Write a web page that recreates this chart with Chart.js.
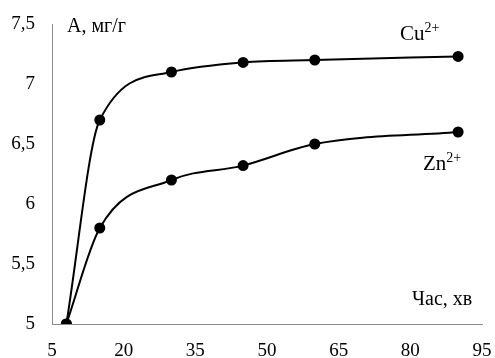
<!DOCTYPE html>
<html>
<head>
<meta charset="utf-8">
<script src="https://cdn.jsdelivr.net/npm/chart.js@4"></script>
<style>
  html, body { margin: 0; padding: 0; background: #fff; }
  #box { width: 495px; height: 358px; }
</style>
</head>
<body>
<div id="box"><canvas id="grafico"></canvas></div>
<script>
// час, хв
var chas = [8, 15, 30, 45, 60, 90];
// адсорбція, мг/г
var cu = [5, 6.7, 7.1, 7.18, 7.2, 7.23];
var zn = [5, 5.8, 6.2, 6.32, 6.5, 6.6];
var xTicks = [5, 20, 35, 50, 65, 80, 95];
var yTicks = [5, 5.5, 6, 6.5, 7, 7.5];

function pts(arr) {
  return chas.map(function (x, i) { return { x: x, y: arr[i] }; });
}

var serif = 'Liberation Serif';

// підписи на полі графіка
var podpysy = {
  id: 'podpysy',
  afterDraw: function (chart) {
    var ctx = chart.ctx;
    var a = chart.chartArea;
    ctx.save();
    ctx.fillStyle = '#000';
    ctx.textBaseline = 'alphabetic';
    ctx.font = '20px ' + serif;
    ctx.fillText('A, мг/г', a.left + 15, a.top + 8);
    ctx.fillText('Час, хв', a.right - 70, a.bottom - 19);

    function ion(txt, x, y) {
      ctx.font = '21px ' + serif;
      ctx.fillText(txt, x, y);
      var w = ctx.measureText(txt).width;
      ctx.font = '14px ' + serif;
      ctx.fillText('2+', x + w, y - 8);
    }
    ion('Cu', a.left + 348, a.top + 16);
    ion('Zn', a.left + 371, a.top + 146);
    ctx.restore();
  }
};

var ctx = grafico.getContext('2d');

var graf = new Chart(ctx, {
  type: 'line',
  data: {
    datasets: [{
      label: 'Cu2+',
      data: pts(cu),
      borderColor: '#000',
      backgroundColor: '#000',
      borderWidth: 2,
      pointRadius: 4.5,
      pointHoverRadius: 4.5,
      cubicInterpolationMode: 'monotone'
    }, {
      label: 'Zn2+',
      data: pts(zn),
      borderColor: '#000',
      backgroundColor: '#000',
      borderWidth: 2,
      pointRadius: 4.5,
      pointHoverRadius: 4.5,
      cubicInterpolationMode: 'monotone'
    }]
  },
  options: {
    responsive: true,
    maintainAspectRatio: false,
    animation: false,
    layout: { padding: { top: 24, right: 13, left: 0, bottom: 0 } },
    plugins: {
      legend: { display: false },
      tooltip: { enabled: false }
    },
    scales: {
      x: {
        type: 'linear',
        min: 5,
        max: 95,
        afterBuildTicks: function (s) { s.ticks = xTicks.map(function (v) { return { value: v }; }); },
        afterFit: function (s) { s.height = 34; s.paddingLeft = 0; s.paddingRight = 0; },
        grid: { display: false, drawTicks: false },
        border: { color: '#8c8c8c', width: 1 },
        ticks: {
          color: '#000',
          padding: 16,
          maxRotation: 0,
          font: { family: serif, size: 19 }
        }
      },
      y: {
        min: 5,
        max: 7.5,
        afterBuildTicks: function (s) { s.ticks = yTicks.map(function (v) { return { value: v }; }); },
        afterFit: function (s) { s.width = 52; s.paddingTop = 0; s.paddingBottom = 0; },
        grid: { display: false, drawTicks: false },
        border: { color: '#8c8c8c', width: 1 },
        ticks: {
          color: '#000',
          padding: 17,
          font: { family: serif, size: 19 },
          callback: function (v) { return String(v).replace('.', ','); }
        }
      }
    }
  },
  plugins: [podpysy]
});
</script>
</body>
</html>
